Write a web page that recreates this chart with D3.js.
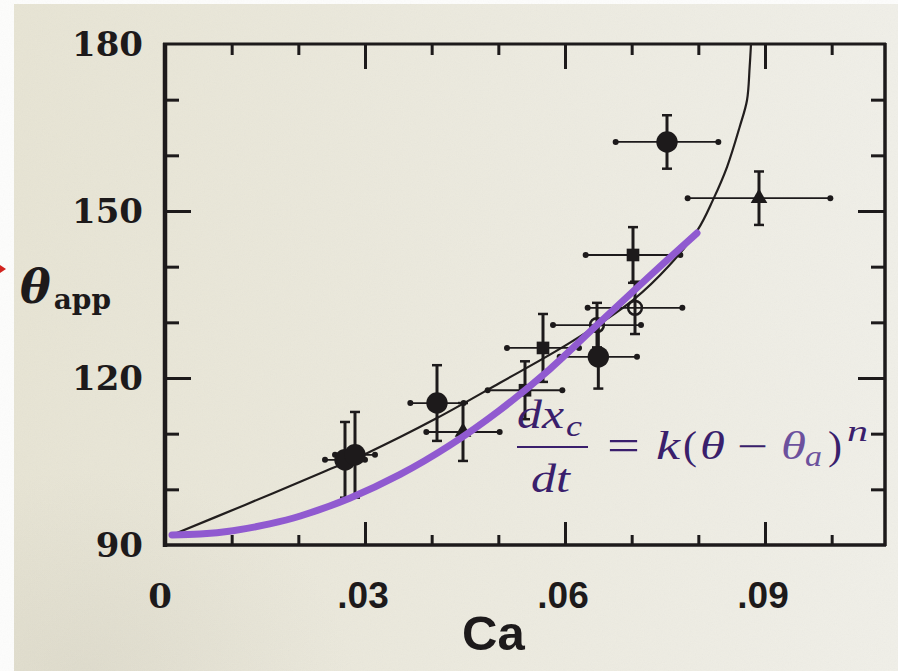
<!DOCTYPE html>
<html>
<head>
<meta charset="utf-8">
<script src="https://cdn.jsdelivr.net/npm/d3@7"></script>
<style>
  body { margin: 0; background: #fff; }
  svg { display: block; }
</style>
</head>
<body>
<svg id="chart" width="898" height="671"></svg>
<script>
// measured points (Ca, apparent contact angle) with error bars
const ca       = [0.0270, 0.0285, 0.0408, 0.0447, 0.0540, 0.0567, 0.0650, 0.0648, 0.0705, 0.0702, 0.0753, 0.0891];
const theta    = [105.3, 106.2, 115.5, 110.3, 117.8, 125.4, 123.8, 129.5, 132.6, 142.1, 162.4, 152.3];
const caErr    = [0.0030, 0.0030, 0.0040, 0.0055, 0.0056, 0.0054, 0.0058, 0.0066, 0.0071, 0.0071, 0.0077, 0.0107];
const thetaErr = [6.8, 7.7, 6.8, 5.2, 5.2, 6.1, 5.7, 4.0, 4.7, 5.0, 4.8, 4.8];
const marker   = ["dot", "dot", "dot", "tri", "sq", "sq", "dot", "open", "open", "sq", "dot", "tri"];

// theory curve (black)
const fitCa    = [0.00105, 0.012, 0.0233, 0.0303, 0.0408, 0.0502, 0.0607, 0.0702, 0.0757, 0.0799, 0.0822, 0.0843, 0.0862, 0.0873, 0.0877, 0.0879];
const fitTheta = [91.8, 97.2, 102.9, 106.5, 112.8, 119.1, 126.3, 134.0, 140.3, 146.6, 152.0, 157.9, 165.1, 169.9, 175.9, 180.0];

// hand drawn purple curve
const purpleCa    = [0.00105, 0.00525, 0.0102, 0.0157, 0.0203, 0.0277, 0.0352, 0.0427, 0.0502, 0.0577, 0.0652, 0.0727, 0.0798];
const purpleTheta = [91.8, 91.96, 92.57, 93.79, 95.21, 98.41, 102.63, 107.89, 114.21, 121.56, 129.97, 138.32, 146.04];

// ticks
const xMinor = [0.01, 0.02, 0.04, 0.05, 0.07, 0.08, 0.10];
const xMajor = [0.03, 0.06, 0.09];
const xLabelVals = [0, 0.03, 0.06, 0.09];
const xLabels = ["0", ".03", ".06", ".09"];
const yMinor = [100, 110, 130, 140, 160, 170];
const yMajor = [120, 150];
const yLabelVals = [90, 120, 150, 180];

const svg = d3.select("#chart");
const W = 898, H = 671;
const ink = "#1d1a1b";

const x = d3.scaleLinear().domain([0, 0.108]).range([165, 885]);
const y = d3.scaleLinear().domain([90, 180]).range([545, 44]);

// paper
const defs = svg.append("defs");
const g1 = defs.append("linearGradient").attr("id", "paper").attr("x1", 0).attr("x2", 1).attr("y1", 0).attr("y2", 0);
g1.append("stop").attr("offset", "0%").attr("stop-color", "#e7e4d4");
g1.append("stop").attr("offset", "55%").attr("stop-color", "#eceadf");
g1.append("stop").attr("offset", "100%").attr("stop-color", "#f0efe8");
const g2 = defs.append("radialGradient").attr("id", "shade").attr("cx", 0.08).attr("cy", 1).attr("r", 0.3);
g2.append("stop").attr("offset", "0%").attr("stop-color", "#b5b1a2").attr("stop-opacity", 0.18);
g2.append("stop").attr("offset", "100%").attr("stop-color", "#b5b1a2").attr("stop-opacity", 0);
const f = defs.append("filter").attr("id", "grain");
f.append("feTurbulence").attr("type", "fractalNoise").attr("baseFrequency", 0.85).attr("numOctaves", 2).attr("seed", 4);
f.append("feColorMatrix").attr("type", "saturate").attr("values", 0);

svg.append("rect").attr("width", W).attr("height", H).attr("fill", "#fdfdfc");
svg.append("rect").attr("x", 14).attr("y", 4).attr("width", W - 14).attr("height", H - 4).attr("fill", "url(#paper)");
svg.append("rect").attr("x", 14).attr("y", 4).attr("width", W - 14).attr("height", H - 4).attr("fill", "url(#shade)");
svg.append("rect").attr("x", 14).attr("y", 4).attr("width", W - 14).attr("height", H - 4)
    .attr("filter", "url(#grain)").attr("opacity", 0.05);

// small red arrow at the left edge
svg.append("path").attr("d", "M0,265 L6,269 L0,273 Z").attr("fill", "#d2231e");

// ticks
function ticks(axis, tr) {
    const g = svg.append("g").attr("transform", tr).call(axis);
    g.select(".domain").remove();
    g.selectAll(".tick line").attr("stroke", ink).attr("stroke-width", 3);
    return g;
}
const x0 = x(0), x1 = x(0.108), y0 = y(90), y1 = y(180);
ticks(d3.axisBottom(x).tickValues(xMinor).tickSize(-10).tickFormat(""), `translate(0,${y0})`);
ticks(d3.axisBottom(x).tickValues(xMajor).tickSize(-23).tickFormat(""), `translate(0,${y0})`);
ticks(d3.axisTop(x).tickValues(xMinor).tickSize(-11).tickFormat(""), `translate(0,${y1})`);
ticks(d3.axisTop(x).tickValues(xMajor).tickSize(-25).tickFormat(""), `translate(0,${y1})`);
ticks(d3.axisLeft(y).tickValues(yMinor).tickSize(-14).tickFormat(""), `translate(${x0},0)`);
ticks(d3.axisLeft(y).tickValues(yMajor).tickSize(-26).tickFormat(""), `translate(${x0},0)`);
ticks(d3.axisRight(y).tickValues(yMinor).tickSize(-14).tickFormat(""), `translate(${x1},0)`);
ticks(d3.axisRight(y).tickValues(yMajor).tickSize(-27).tickFormat(""), `translate(${x1},0)`);

// frame
svg.append("line").attr("x1", x0).attr("x2", x0).attr("y1", y1 - 1).attr("y2", y0 + 2)
    .attr("stroke", ink).attr("stroke-width", 4.5);
svg.append("line").attr("x1", x0 - 2).attr("x2", x1 + 1).attr("y1", y0).attr("y2", y0)
    .attr("stroke", ink).attr("stroke-width", 3.5);
svg.append("line").attr("x1", x0 - 2).attr("x2", x1 + 1).attr("y1", y1).attr("y2", y1)
    .attr("stroke", ink).attr("stroke-width", 3);
svg.append("line").attr("x1", x1).attr("x2", x1).attr("y1", y1 - 1).attr("y2", y0 + 1)
    .attr("stroke", ink).attr("stroke-width", 3.5);

// tick labels
svg.selectAll(".ylab").data(yLabelVals).enter().append("text")
    .attr("x", 143).attr("y", d => y(d)).attr("dy", "0.36em")
    .attr("text-anchor", "end")
    .style("font-family", "'DejaVu Serif', serif").style("font-weight", "bold")
    .style("font-size", "34px").style("fill", ink)
    .text(d => d);

svg.selectAll(".xlab").data(xLabelVals).enter().append("text")
    .attr("x", (d, i) => x(d) + (i === 0 ? -5 : -2)).attr("y", 608)
    .attr("text-anchor", "middle")
    .style("font-family", (d, i) => i === 0 ? "'DejaVu Serif', serif" : "'Liberation Sans', Arial, sans-serif")
    .style("font-weight", "bold")
    .style("font-size", (d, i) => i === 0 ? "34px" : "37px").style("fill", ink)
    .text((d, i) => xLabels[i]);

// axis titles
svg.append("text").attr("x", 462).attr("y", 650)
    .style("font-family", "'Liberation Sans', Arial, sans-serif").style("font-weight", "bold")
    .style("font-size", "49px").style("fill", ink).text("Ca");
const yt = svg.append("text").attr("x", 20).attr("y", 303)
    .style("font-family", "'DejaVu Serif', serif").style("font-weight", "bold").style("fill", ink);
yt.append("tspan").style("font-size", "46px").style("font-style", "italic").text("θ");
yt.append("tspan").attr("dy", 6).attr("dx", 3).style("font-size", "28px").text("app");

// black theory curve
const fit = fitCa.map((c, i) => [c, fitTheta[i]]);
svg.append("path")
    .attr("d", d3.line().x(d => x(d[0])).y(d => y(d[1])).curve(d3.curveCatmullRom.alpha(0.5))(fit))
    .attr("fill", "none").attr("stroke", "#221e1e").attr("stroke-width", 2.2);

// error bars and markers
const pts = ca.map((c, i) => ({c, t: theta[i], ec: caErr[i], et: thetaErr[i], m: marker[i]}));
const pg = svg.append("g").attr("stroke", ink).attr("fill", ink);
pts.forEach(p => {
    const cx = x(p.c), cy = y(p.t);
    const xa = x(p.c - p.ec), xb = x(p.c + p.ec), ya = y(p.t + p.et), yb = y(p.t - p.et);
    pg.append("line").attr("x1", xa).attr("x2", xb).attr("y1", cy).attr("y2", cy).attr("stroke-width", 1.8);
    pg.append("circle").attr("cx", xa).attr("cy", cy).attr("r", 3).attr("stroke", "none");
    pg.append("circle").attr("cx", xb).attr("cy", cy).attr("r", 3).attr("stroke", "none");
    pg.append("line").attr("x1", cx).attr("x2", cx).attr("y1", ya).attr("y2", yb).attr("stroke-width", 3);
    pg.append("line").attr("x1", cx - 5).attr("x2", cx + 5).attr("y1", ya).attr("y2", ya).attr("stroke-width", 2.5);
    pg.append("line").attr("x1", cx - 5).attr("x2", cx + 5).attr("y1", yb).attr("y2", yb).attr("stroke-width", 2.5);
});
const symType = {dot: d3.symbolCircle, tri: d3.symbolTriangle, sq: d3.symbolSquare, open: d3.symbolCircle};
const symSize = {dot: 360, tri: 120, sq: 160, open: 150};
pg.selectAll(".mk").data(pts).enter().append("path")
    .attr("transform", d => `translate(${x(d.c)},${y(d.t)})`)
    .attr("d", d => d3.symbol().type(symType[d.m]).size(symSize[d.m])())
    .attr("fill", d => d.m === "open" ? "none" : ink)
    .attr("stroke-width", d => d.m === "open" ? 2.5 : 0);

// equation
const eqInk = "#3a1f6c", eqLight = "#6c519d";
const serif = "'Liberation Serif', 'Times New Roman', serif";
function eq(txt, ex, ey, size, italic, col, len) {
    const t = svg.append("text").attr("x", ex).attr("y", ey)
        .style("font-family", serif).style("font-size", size + "px")
        .style("font-style", italic ? "italic" : "normal").style("fill", col).text(txt);
    if (len) t.attr("textLength", len).attr("lengthAdjust", "spacingAndGlyphs");
    return t;
}
eq("dx", 517, 428, 41, true, eqInk, 47);
eq("c", 566, 436, 29, true, eqInk, 16);
svg.append("line").attr("x1", 517).attr("x2", 588).attr("y1", 447).attr("y2", 447)
    .attr("stroke", eqInk).attr("stroke-width", 2);
eq("dt", 531, 492, 41, true, eqInk, 39);
eq("=", 607, 460, 44, false, eqInk, 33);
eq("k", 656, 459, 41, true, eqInk, 24);
eq("(", 683, 459, 41, false, eqInk, 14);
eq("θ", 700, 459, 41, true, eqInk, 25);
eq("−", 737, 460, 41, false, eqInk, 31);
eq("θ", 781, 459, 41, true, eqLight, 25);
eq("a", 805, 466, 29, true, eqLight, 17);
eq(")", 828, 459, 41, false, eqInk, 14);
eq("n", 847, 441, 29, true, eqInk, 21);

// purple curve on top
const pur = purpleCa.map((c, i) => [c, purpleTheta[i]]);
svg.append("path")
    .attr("d", d3.line().x(d => x(d[0])).y(d => y(d[1])).curve(d3.curveCatmullRom.alpha(0.5))(pur))
    .attr("fill", "none").attr("stroke", "#905ad0").attr("stroke-width", 7)
    .attr("stroke-linecap", "round");
</script>
</body>
</html>
